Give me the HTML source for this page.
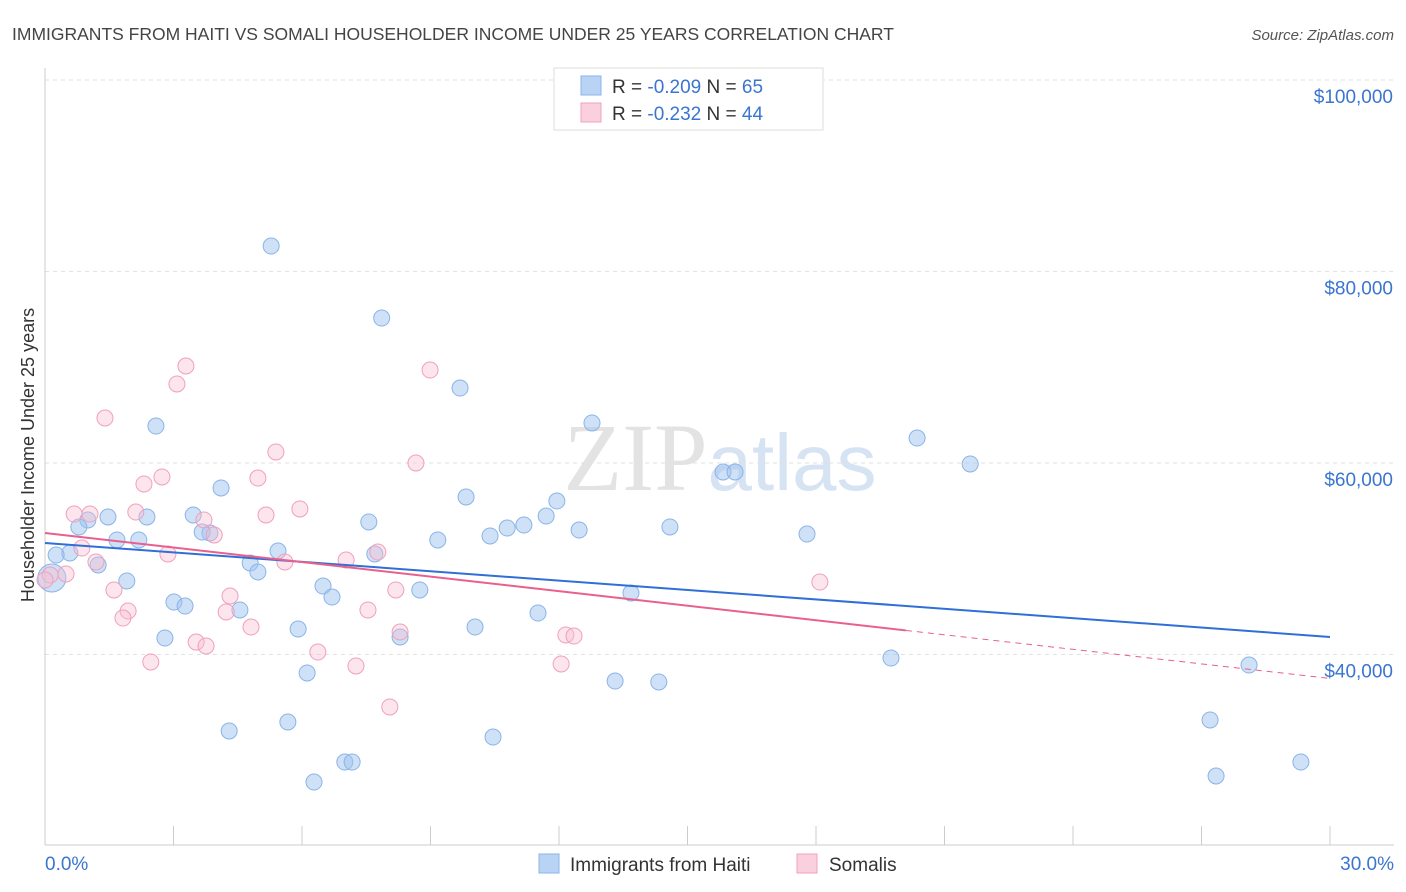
<!DOCTYPE html>
<html><head><meta charset="utf-8">
<style>
body{margin:0;background:#fff;font-family:"Liberation Sans",sans-serif;}
svg{display:block}
</style></head>
<body>
<svg id="chart" width="1406" height="892">
<text x="12" y="40" font-size="17.5" fill="#444">IMMIGRANTS FROM HAITI VS SOMALI HOUSEHOLDER INCOME UNDER 25 YEARS CORRELATION CHART</text>
<text x="1394" y="40" font-size="15" fill="#555" font-style="italic" text-anchor="end">Source: ZipAtlas.com</text>
<text x="720" y="490" font-size="96" fill="#e3e3e3" text-anchor="middle" font-family="Liberation Serif">ZIP<tspan fill="#d6e3f3" font-family="Liberation Sans" font-size="80">atlas</tspan></text>
<g id="grid"></g>
<g id="axes"></g>
<g id="points"></g>
<g id="trends"></g>
<text transform="translate(34,455) rotate(-90)" font-size="18" fill="#333" text-anchor="middle">Householder Income Under 25 years</text>
<g>
<rect x="554" y="68" width="269" height="62" fill="#fff" stroke="#ddd"/>
<rect x="581" y="76" width="20" height="19" fill="#b9d3f5" stroke="#8ab4e8"/>
<rect x="581" y="103" width="20" height="19" fill="#fbd0de" stroke="#f0a0bc"/>
<text x="612" y="93" font-size="19" fill="#333">R = <tspan fill="#3a75d0">-0.209</tspan>   N = <tspan fill="#3a75d0">65</tspan></text>
<text x="612" y="120" font-size="19" fill="#333">R = <tspan fill="#3a75d0">-0.232</tspan>   N = <tspan fill="#3a75d0">44</tspan></text>
</g>
<g>
<rect x="539" y="854" width="20" height="19" fill="#b9d3f5" stroke="#8ab4e8"/>
<text x="570" y="871" font-size="19" fill="#333">Immigrants from Haiti</text>
<rect x="797" y="854" width="20" height="19" fill="#fbd0de" stroke="#f0a0bc"/>
<text x="829" y="871" font-size="19" fill="#333">Somalis</text>
</g>
</svg>
<script>
const yTicks=[40000,60000,80000,100000];
const yTickLabels=["$40,000","$60,000","$80,000","$100,000"];
const xTickLabels=["0.0%","30.0%"];
const haitiX=[5.28,7.86,9.69,2.59,12.77,20.36,21.60,15.83,16.11,4.11,9.83,11.95,1.47,2.38,1.00,3.46,7.56,11.70,0.79,11.18,10.79,10.39,12.47,14.59,3.85,3.67,1.68,2.19,9.17,17.79,0.58,0.26,5.44,7.70,1.24,4.79,4.97,1.91,6.49,8.75,6.70,13.68,3.01,3.27,4.55,11.51,5.91,10.04,8.29,2.80,19.75,28.11,6.12,13.31,14.33,27.20,5.67,4.30,10.46,7.00,7.17,29.32,6.28,27.34,0.16];
const haitiY=[82660,75140,67830,63860,64180,62610,59900,59060,59060,57390,56450,56030,54360,54360,54050,54570,53840,54460,53320,53520,53210,52380,53000,53320,52690,52790,51960,51960,51960,52580,50600,50390,50810,50500,49350,49560,48620,47680,47150,46740,46000,46420,45480,45060,44650,44330,42660,42870,41830,41720,39630,38900,38070,37230,37130,33160,32950,32010,31380,28770,28770,28770,26680,27310,47990];
const somaliX=[3.29,3.08,8.99,1.40,5.39,8.66,2.73,4.97,2.31,0.68,1.05,2.12,5.16,5.95,3.71,3.95,0.86,2.87,7.77,7.03,5.60,1.19,0.49,0.12,0.00,1.61,4.32,8.19,18.09,1.94,1.82,4.23,7.54,4.81,8.29,12.16,12.35,3.53,3.76,6.37,2.47,7.26,12.05,8.05];
const somaliY=[70130,68250,69710,64700,61150,60000,58540,58430,57810,54670,54670,54880,54570,55200,54050,52480,51120,50500,50700,49870,49660,49660,48410,48300,47780,46740,46110,46740,47570,44540,43810,44440,44650,42870,42350,42040,41930,41300,40890,40260,39220,38800,39010,34520];
const haitiTrend=[51640,41830];
const somaliTrend=[52690,37500];
const somaliSolidEnd=20.1;
const NS="http://www.w3.org/2000/svg";
const X=v=>45+v/30*1285;
const Y=v=>80+(100000-v)*191.5/20000;
function mk(tag,attrs,parent){const e=document.createElementNS(NS,tag);for(const k in attrs)e.setAttribute(k,attrs[k]);parent.appendChild(e);return e;}
const grid=document.getElementById('grid'),axes=document.getElementById('axes'),pts=document.getElementById('points'),tr=document.getElementById('trends');
yTicks.forEach((t,i)=>{
 const l=mk('line',{x1:45,x2:1394,y1:Y(t),y2:Y(t),stroke:'#e2e2e2','stroke-dasharray':'4,4'},grid);
 
 
 const tx=mk('text',{x:1393,y:Y(t)+23,'font-size':19,fill:'#3a75d0','text-anchor':'end'},axes);
 tx.textContent=yTickLabels[i];
 
 
});
const xa=mk('line',{x1:45,x2:1394,y1:845,y2:845,stroke:'#ccc'},axes);


const ya=mk('line',{x1:45,x2:45,y1:68,y2:845,stroke:'#ccc'},axes);


for(let i=1;i<=10;i++){const t=mk('line',{x1:X(i*3),x2:X(i*3),y1:826,y2:845,stroke:'#ccc'},axes);
 
 }
[[0,'start',45],[30,'end',1394]].forEach((d,i)=>{const t=mk('text',{x:d[2],y:870,'font-size':19,fill:'#3a75d0','text-anchor':d[1]},axes);t.textContent=xTickLabels[i];
 
 });
haitiX.forEach((x,i)=>{const c=mk('circle',{cx:X(x),cy:Y(haitiY[i]),r:i==haitiX.length-1?14:8,fill:'rgba(160,196,240,0.5)',stroke:'#8ab4e8','stroke-width':1},pts);
 
 });
somaliX.forEach((x,i)=>{const c=mk('circle',{cx:X(x),cy:Y(somaliY[i]),r:8,fill:'rgba(248,190,210,0.4)',stroke:'#f0a0bc','stroke-width':1},pts);
 
 });
const bl=mk('line',{x1:X(0),y1:Y(haitiTrend[0]),x2:X(30),y2:Y(haitiTrend[1]),stroke:'#2f6fd6','stroke-width':2},tr);


const sv=x=>somaliTrend[0]+(somaliTrend[1]-somaliTrend[0])*x/30;
const pl=mk('line',{x1:X(0),y1:Y(sv(0)),x2:X(somaliSolidEnd),y2:Y(sv(somaliSolidEnd)),stroke:'#e8608e','stroke-width':2},tr);


const pd=mk('line',{x1:X(somaliSolidEnd),y1:Y(sv(somaliSolidEnd)),x2:X(30),y2:Y(sv(30)),stroke:'#e8608e','stroke-width':1,'stroke-dasharray':'6,5'},tr);


</script>
</body></html>
